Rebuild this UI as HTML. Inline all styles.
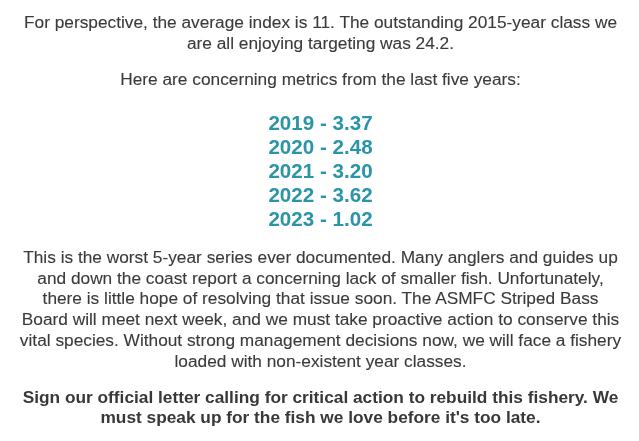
<!DOCTYPE html>
<html><head><meta charset="utf-8">
<style>
html,body{margin:0;padding:0;background:#fff;}
body{width:639px;height:441px;overflow:hidden;position:relative;font-family:"Liberation Sans",Arial,Helvetica,sans-serif;color:#3b3b3b;text-align:center;}
.c{position:absolute;left:1px;width:639px;white-space:nowrap;margin:0;}
.t{-webkit-text-stroke:0.12px #3b3b3b;font-size:17.3px;line-height:20.8px;}
.n{font-size:20.6px;line-height:24px;font-weight:bold;color:#2a94a9;}
.b{font-size:17.3px;line-height:20.8px;font-weight:bold;color:#383838;}
</style></head><body>
<p class="c t" style="top:11.8px">For perspective, the average index is 11. The outstanding 2015-year class we<br>are all enjoying targeting was 24.2.</p>
<p class="c t" style="top:69.2px">Here are concerning metrics from the last five years:</p>
<p class="c n" style="top:111.4px">2019 - 3.37<br>2020 - 2.48<br>2021 - 3.20<br>2022 - 3.62<br>2023 - 1.02</p>
<p class="c t" style="top:246.9px">This is the worst 5-year series ever documented. Many anglers and guides up<br>and down the coast report a concerning lack of smaller fish. Unfortunately,<br>there is little hope of resolving that issue soon. The ASMFC Striped Bass<br>Board will meet next week, and we must take proactive action to conserve this<br>vital species. Without strong management decisions now, we will face a fishery<br>loaded with non-existent year classes.</p>
<p class="c b" style="top:386.5px">Sign our official letter calling for critical action to rebuild this fishery. We<br>must speak up for the fish we love before it's too late.</p>
</body></html>
